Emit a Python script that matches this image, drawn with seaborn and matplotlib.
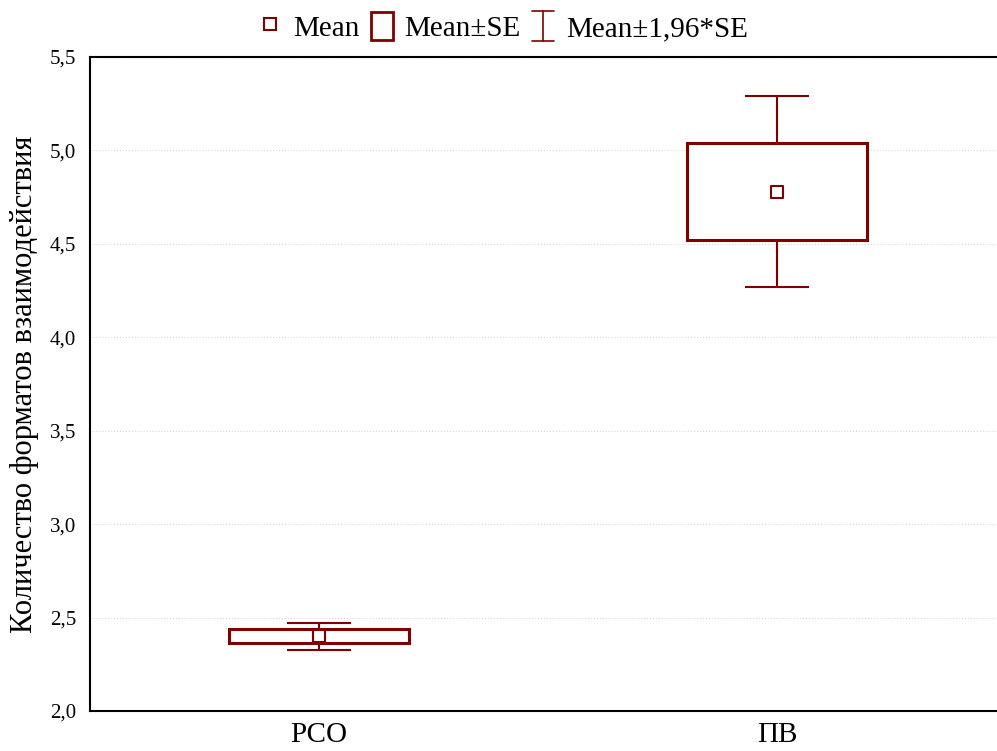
import numpy as np
import pandas as pd
import matplotlib.pyplot as plt
import seaborn as sns
from matplotlib.lines import Line2D
from matplotlib.patches import Rectangle
from matplotlib.legend_handler import HandlerBase

sns.set_theme(style="white")
plt.rcParams['font.family'] = ['Liberation Serif', 'DejaVu Serif']
plt.rcParams['text.color'] = 'black'
plt.rcParams['xtick.color'] = 'black'
plt.rcParams['ytick.color'] = 'black'
plt.rcParams['axes.labelcolor'] = 'black'

groups = ['РСО', 'ПВ']
means = [2.40, 4.78]
se = [0.037, 0.26]
ylabel = 'Количество форматов взаимодействия'
yticks = [2.0, 2.5, 3.0, 3.5, 4.0, 4.5, 5.0, 5.5]

color = '#800000'
df = pd.DataFrame({'group': groups, 'mean': means, 'se': se})
df['lo'] = df['mean'] - df['se']
df['ci'] = 1.96 * df['se']


class WhiskerHandler(HandlerBase):
    # draws an "I" symbol for the 1.96*SE whisker in the legend
    def create_artists(self, legend, orig_handle, xdescent, ydescent,
                       width, height, fontsize, trans):
        cx = width / 2 - xdescent
        y0, y1 = -ydescent - 1, height - ydescent + 1
        kw = dict(color=color, linewidth=1.2, transform=trans)
        return [Line2D([cx, cx], [y0, y1], **kw),
                Line2D([0, width], [y0, y0], **kw),
                Line2D([0, width], [y1, y1], **kw)]


fig = plt.figure(figsize=(9.97, 7.51), dpi=100)
ax = fig.add_axes([90 / 997, 40 / 751, (1006 - 90) / 997, 654 / 751])

x = np.arange(len(groups))
# whiskers: mean +/- 1.96*SE
ax.errorbar(x, df['mean'], yerr=df['ci'], fmt='none', ecolor=color,
            elinewidth=1.5, capsize=23, capthick=1.5, zorder=2)
# boxes: mean +/- SE
ax.bar(x, 2 * df['se'], bottom=df['lo'], width=0.395, facecolor='white',
       edgecolor=color, linewidth=2.2, zorder=3)
# means
sns.scatterplot(data=df, x='group', y='mean', marker='s', s=70,
                facecolor='white', edgecolor=color, linewidth=1.5, ax=ax, zorder=4)

ax.set_xlim(-0.5, 1.5)
ax.set_ylim(2.0, 5.5)
ax.set_yticks(yticks)
ax.set_yticklabels([f'{v:.1f}'.replace('.', ',') for v in yticks], fontsize=15)
ax.set_xticks(x)
ax.set_xticklabels(groups, fontsize=21)
ax.set_xlabel('')
ax.set_ylabel(ylabel, fontsize=22, labelpad=8)
ax.yaxis.grid(True, linestyle=':', color='#d8d8d8', linewidth=0.8)
ax.set_axisbelow(True)
ax.tick_params(axis='x', direction='in', length=4, width=1, color='black', pad=8)
ax.tick_params(axis='y', direction='in', length=3, width=1, color='black', pad=10)
for s in ['left', 'bottom', 'top']:
    ax.spines[s].set_color('black')
    ax.spines[s].set_linewidth(1.5)
ax.spines['right'].set_visible(False)

whisker_key = object()
handles = [
    Line2D([], [], linestyle='none', marker='s', markersize=8,
           markerfacecolor='white', markeredgecolor=color, markeredgewidth=1.5),
    Rectangle((0, 0), 1, 1, facecolor='white', edgecolor=color, linewidth=2),
    whisker_key,
]
fig.legend(handles, ['Mean', 'Mean±SE', 'Mean±1,96*SE'], loc='center',
           bbox_to_anchor=(0.505, 0.964), ncol=3, frameon=False, fontsize=21,
           handlelength=0.75, handleheight=1.1, handletextpad=0.4,
           columnspacing=0.4, handler_map={whisker_key: WhiskerHandler()})

fig.savefig('out.png', dpi=100)
